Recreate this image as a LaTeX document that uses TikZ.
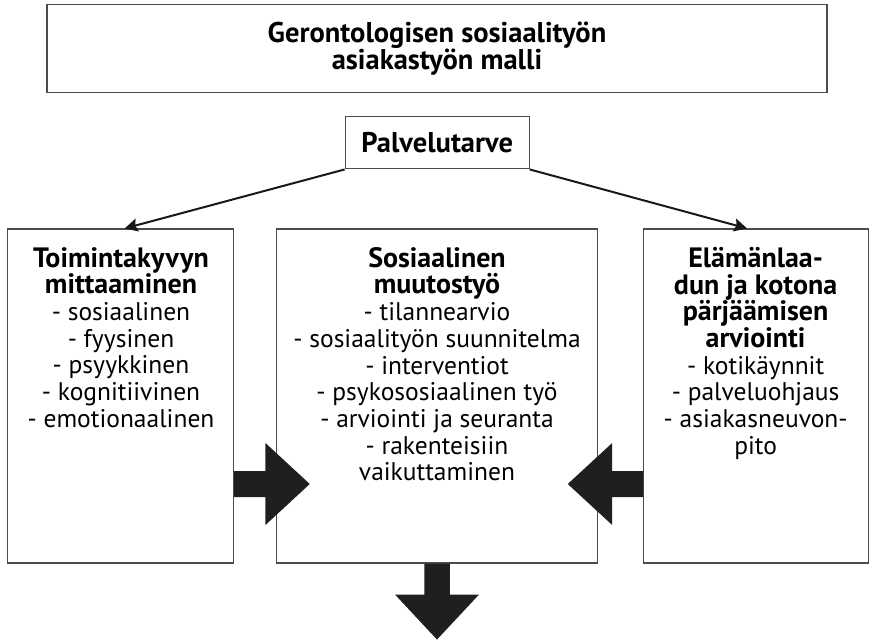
\documentclass[tikz,border=0pt]{standalone}
\usepackage{fontspec}
\setmainfont{PT Sans}
\usetikzlibrary{arrows.meta}
\newcommand{\headline}[1]{{\fontsize{28}{26.7}\selectfont\bfseries #1}}
\begin{document}
\begin{tikzpicture}[x=1pt,y=-1pt,
  frame/.style={draw=black!70,line width=1.1pt,fill=white,inner sep=0pt},
  bodytext/.style={inner sep=0pt,align=center,anchor=north,
    font=\fontsize{25.5}{26.7}\selectfont},
  thinarrow/.style={draw=black!90,line width=2pt,
    -{Stealth[length=13pt,width=13pt,inset=2pt]}},
  blockarrow/.style={fill=black!88,draw=none}]
\useasboundingbox (0,0) rectangle (869,640);

% heading and the starting point
\node[frame,minimum width=780pt,minimum height=88pt,align=center,
  font=\bfseries\fontsize{28.5}{25.7}\selectfont] (title) at (437,48.7)
  {Gerontologisen sosiaalityön\\asiakastyön malli};
\node[frame,minimum width=184pt,minimum height=52pt,
  font=\bfseries\fontsize{28.5}{28}\selectfont] (need) at (437.2,142.9) {Palvelutarve};

% the three working areas
\node[frame,minimum width=226pt,minimum height=334pt] (left) at (120.6,396) {};
\node[frame,minimum width=320.6pt,minimum height=334pt] (mid) at (437,396) {};
\node[frame,minimum width=224.8pt,minimum height=334pt] (right) at (756.1,396) {};

\node[bodytext] (lefttext) at (121,247)
  {\headline{Toimintakyvyn}\\\headline{mittaaminen}\\- sosiaalinen\\- fyysinen\\- psyykkinen\\- kognitiivinen\\- emotionaalinen};
\node[bodytext] (midtext) at (437,247)
  {\headline{Sosiaalinen}\\\headline{muutostyö}\\- tilannearvio\\- sosiaalityön suunnitelma\\- interventiot\\- psykososiaalinen työ\\- arviointi ja seuranta\\- rakenteisiin\\vaikuttaminen};
\node[bodytext] (righttext) at (755.6,247)
  {\headline{Elämänlaa-}\\\headline{dun ja kotona}\\\headline{pärjäämisen}\\\headline{arviointi}\\- kotikäynnit\\- palveluohjaus\\- asiakasneuvon-\\pito};

% connectors from the service need
\draw[thinarrow] (need.south west) -- ([xshift=4pt]left.north);
\draw[thinarrow] (need.south east) -- ([xshift=-9pt]right.north);

% block arrows into and out of the central box
\coordinate (arrowrow) at (0,484);
\fill[blockarrow] (left.east |- arrowrow) ++(0,-13) -- ++(31.3,0) -- ++(0,-28)
  -- ++(44.3,41) -- ++(-44.3,41) -- ++(0,-28) -- ++(-31.3,0) -- cycle;
\fill[blockarrow] (right.west |- arrowrow) ++(0,-13) -- ++(-31,0) -- ++(0,-28)
  -- ++(-44.4,41) -- ++(44.4,41) -- ++(0,-28) -- ++(31,0) -- cycle;
\fill[blockarrow] (mid.south) ++(-12.75,0) -- ++(0,31) -- ++(-29.25,0)
  -- ++(42,45) -- ++(42,-45) -- ++(-29.25,0) -- ++(0,-31) -- cycle;
\end{tikzpicture}
\end{document}
